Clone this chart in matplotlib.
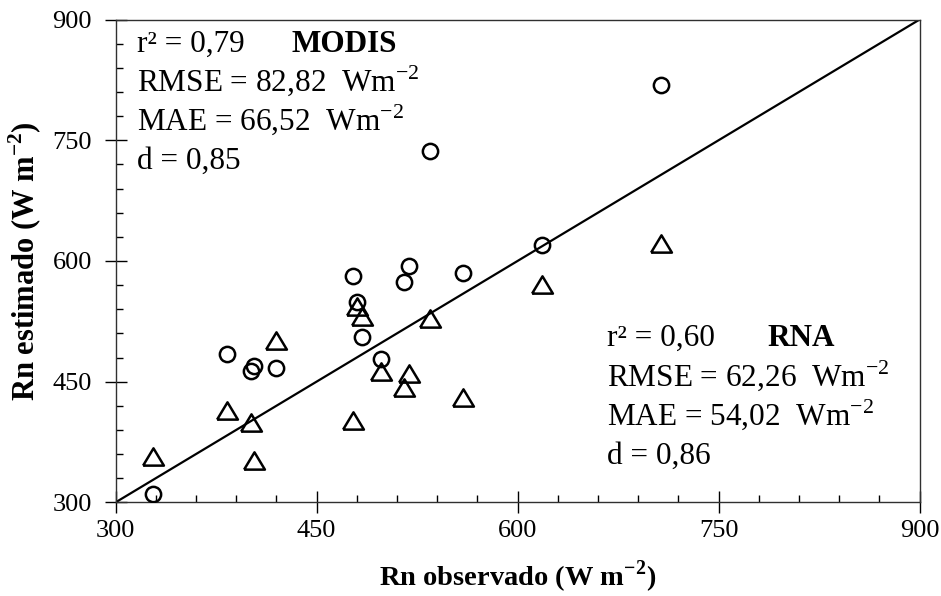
import matplotlib
matplotlib.use("Agg")
import matplotlib.pyplot as plt
import numpy as np
from matplotlib.ticker import MultipleLocator

# Data
observed = [328, 383, 401, 403, 420, 477, 480, 484, 498, 515, 519, 535, 559, 618, 707]
modis = [310, 484, 463, 470, 467, 581, 549, 506, 478, 574, 594, 737, 585, 620, 819]
rna = [357, 413, 399, 352, 501, 401, 543, 531, 462, 442, 460, 528, 430, 570, 621]
ticks = [300, 450, 600, 750, 900]
line_1to1 = [300, 900]

plt.rcParams['font.family'] = ['Liberation Serif', 'DejaVu Serif']
plt.rcParams['mathtext.fontset'] = 'custom'
plt.rcParams['mathtext.rm'] = 'Liberation Serif'
plt.rcParams['mathtext.bf'] = 'Liberation Serif:bold'

W, H = 941, 596
fig = plt.figure(figsize=(W / 100, H / 100), dpi=100)
ax = fig.add_axes([115.5 / W, 1 - 502.4 / H, (919.5 - 115.5) / W, (502.4 - 19.6) / H])

ax.plot(line_1to1, line_1to1, color='black', lw=1.6, zorder=1)
ax.plot(observed, modis, linestyle='none', marker='o', ms=11, mfc='none', mec='black', mew=1.8, zorder=3)
tri = [(-1, -0.78), (1, -0.78), (0, 0.88), (-1, -0.78)]
ax.plot(observed, rna, linestyle='none', marker=tri, ms=15, mfc='none', mec='black', mew=1.8, zorder=3)

ax.set_xlim(300, 900)
ax.set_ylim(300, 900)
ax.set_xticks(ticks)
ax.set_yticks(ticks)
ax.xaxis.set_minor_locator(MultipleLocator(30))
ax.yaxis.set_minor_locator(MultipleLocator(30))
ax.tick_params(which='major', direction='inout', length=16, width=1.0, labelsize=19, pad=5, colors='black')
ax.tick_params(axis='y', which='major', pad=9)
ax.tick_params(which='minor', direction='in', length=5, width=1.0)
for s in ax.spines.values():
    s.set_linewidth(1.0)
    s.set_color('#303030')

ax.set_xlabel(r'Rn observado (W m$^{\mathbf{-2}}$)', fontsize=20.5, fontweight='bold', labelpad=12)
ax.set_ylabel(r'Rn estimado (W m$^{\mathbf{-2}}$)', fontsize=22, fontweight='bold', labelpad=6)

def ftext(px, py, s, **kw):
    fig.text(px / W, 1 - py / H, s, va='baseline', ha='left', fontsize=22.5, **kw)

# MODIS block
ftext(137, 52, 'r² = 0,79')
ftext(291, 52, 'MODIS', fontweight='bold')
ftext(137, 91, r'RMSE = 82,82  Wm$^{-2}$')
ftext(137, 130, r'MAE = 66,52  Wm$^{-2}$')
ftext(137, 169, 'd = 0,85')

# RNA block
ftext(607, 346, 'r² = 0,60')
ftext(767, 346, 'RNA', fontweight='bold')
ftext(607, 386, r'RMSE = 62,26  Wm$^{-2}$')
ftext(607, 425, r'MAE = 54,02  Wm$^{-2}$')
ftext(607, 464, 'd = 0,86')

fig.savefig('out.png', dpi=100)
